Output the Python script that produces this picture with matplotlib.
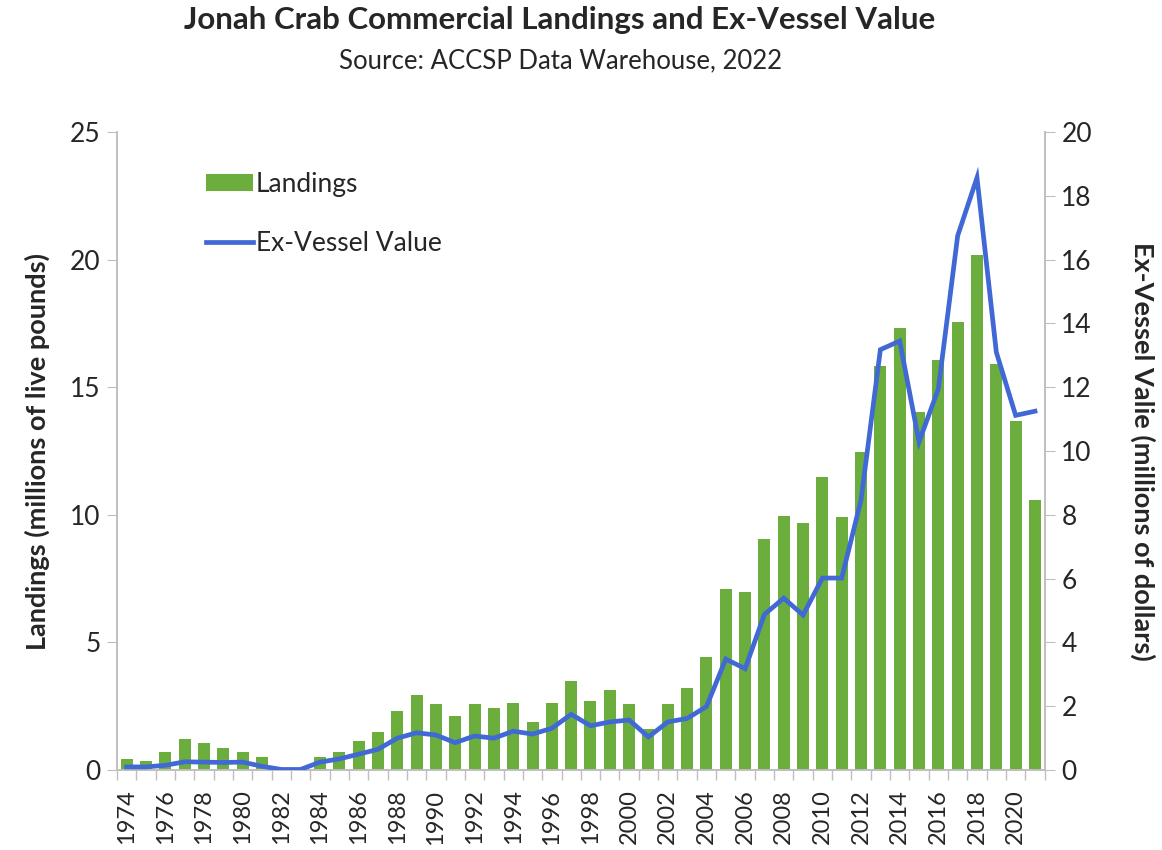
import numpy as np
import matplotlib.pyplot as plt
from matplotlib.ticker import FixedLocator

plt.rcParams['font.family'] = ['Lato', 'DejaVu Sans']

# data
years = list(range(1974, 2022))
landings = [0.42, 0.35, 0.72, 1.2, 1.07, 0.88, 0.72, 0.5, 0.0, 0.0,
            0.5, 0.7, 1.15, 1.5, 2.3, 2.95, 2.58, 2.13, 2.58, 2.42,
            2.64, 1.87, 2.64, 3.49, 2.7, 3.14, 2.58, 1.63, 2.58, 3.23,
            4.42, 7.1, 6.97, 9.05, 9.97, 9.7, 11.5, 9.92, 12.45, 15.85,
            17.32, 14.05, 16.05, 17.55, 20.17, 15.92, 13.66, 10.6]
value = [0.1, 0.1, 0.15, 0.26, 0.25, 0.24, 0.25, 0.12, 0.02, 0.02,
         0.25, 0.35, 0.5, 0.65, 1.0, 1.17, 1.1, 0.86, 1.07, 1.0,
         1.22, 1.13, 1.31, 1.75, 1.39, 1.51, 1.57, 1.04, 1.51, 1.62,
         1.99, 3.48, 3.18, 4.88, 5.39, 4.86, 6.02, 6.02, 8.47, 13.18,
         13.45, 10.29, 11.95, 16.75, 18.57, 13.1, 11.12, 11.25]

title = 'Jonah Crab Commercial Landings and Ex-Vessel Value'
subtitle = 'Source: ACCSP Data Warehouse, 2022'

bar_color = '#6BAE3E'
line_color = '#4169D6'
spine_color = '#BFBFBF'
text_color = '#262626'

fig = plt.figure(figsize=(11.62, 8.5), dpi=100)
ax = fig.add_axes([0.1007, 0.094, 0.7983, 0.7506])
ax2 = ax.twinx()

x = np.arange(len(years))
bars = ax.bar(x, landings, width=0.62, color=bar_color, label='Landings', zorder=2)
line, = ax2.plot(x, value, color=line_color, linewidth=3.4, label='Ex-Vessel Value',
                 solid_joinstyle='miter', zorder=3)

ax.set_xlim(-0.5, len(years) - 0.5)
ax.set_ylim(0, 25)
ax2.set_ylim(0, 20)
ax.set_yticks(np.arange(0, 26, 5))
ax2.set_yticks(np.arange(0, 21, 2))

# year labels on every other bar, tick marks between bars
ax.set_xticks(x[::2])
ax.set_xticklabels([str(y) for y in years[::2]], rotation=90)
ax.xaxis.set_minor_locator(FixedLocator(np.arange(-0.5, len(years), 1)))
ax.tick_params(axis='x', which='major', length=0, pad=14, labelsize=17, labelcolor=text_color)
ax.tick_params(axis='x', which='minor', length=7, color=spine_color, width=1)
ax.tick_params(axis='y', length=7, color=spine_color, labelsize=19, labelcolor=text_color, pad=5)
ax2.tick_params(axis='y', length=7, color=spine_color, labelsize=19, labelcolor=text_color, pad=5)

for a in (ax, ax2):
    a.spines['top'].set_visible(False)
    for s in ('left', 'right', 'bottom'):
        a.spines[s].set_color(spine_color)
        a.spines[s].set_linewidth(1.2)

ax.set_ylabel('Landings (millions of live pounds)', fontsize=19.5, fontweight='bold',
              color=text_color)
ax.yaxis.set_label_coords(-0.072, 0.5)
ax2.set_ylabel('Ex-Vessel Valie (millions of dollars)', fontsize=19.5, fontweight='bold',
               color=text_color, rotation=270, labelpad=46)

fig.text(0.482, 0.976, title, ha='center', va='center', fontsize=22.5, fontweight='bold',
         color=text_color)
fig.text(0.482, 0.929, subtitle, ha='center', va='center', fontsize=18.5, color=text_color)

ax.legend([bars, line], ['Landings', 'Ex-Vessel Value'], loc='upper left',
          bbox_to_anchor=(0.07, 0.975), frameon=False, fontsize=19,
          handlelength=1.8, handleheight=0.6, handletextpad=0.1, labelspacing=1.3,
          labelcolor=text_color)

fig.savefig('out.png', dpi=100, facecolor='white')
